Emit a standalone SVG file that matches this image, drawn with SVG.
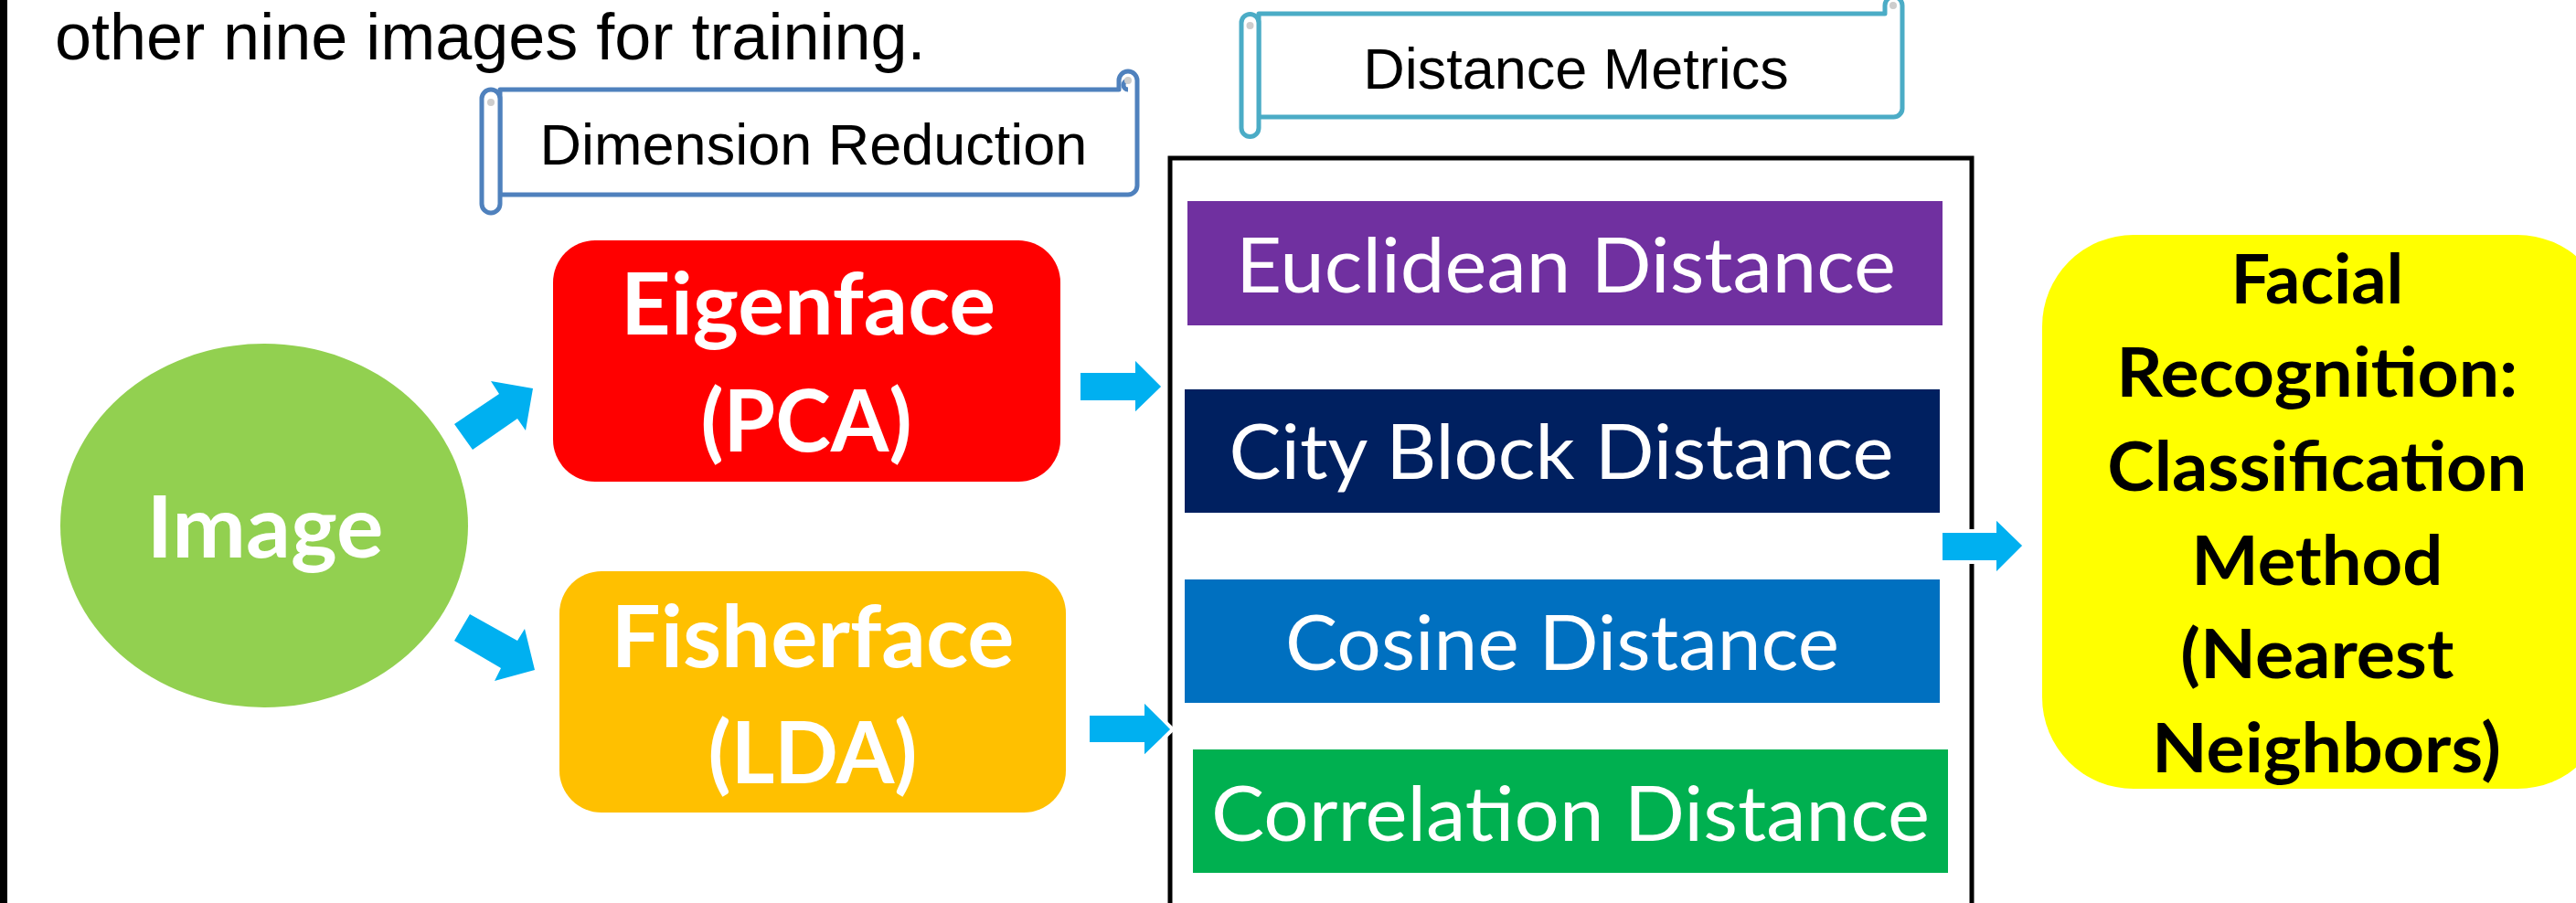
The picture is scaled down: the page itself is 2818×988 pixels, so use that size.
<svg xmlns="http://www.w3.org/2000/svg" width="2818" height="988" viewBox="0 0 2818 988">
<style>
.cal{font-family:Lato,"Open Sans","Liberation Sans",sans-serif}
.b{font-weight:bold}
.w{fill:#FFFFFF}
.k{fill:#000000}
.ar{font-family:"Liberation Sans",Arial,sans-serif;fill:#000000}
.arrow{fill:#00B0F0}
.arrowW{fill:#00B0F0;stroke:#FFFFFF;stroke-width:4}
.scrollA{fill:#FFFFFF;stroke:#4F81BD;stroke-width:5;stroke-linejoin:round}
.scrollB{fill:#FFFFFF;stroke:#4BACC6;stroke-width:5;stroke-linejoin:round}
.curl{fill:#CDCDCD}
</style>
<rect x="0" y="0" width="2818" height="988" fill="#FFFFFF"/>
<rect id="leftbar" x="0" y="0" width="8" height="988" fill="#000000"/>

<text id="caption" class="ar" x="60" y="65" font-size="72">other nine images for training.</text>

<g id="dimension-reduction">
  <path class="scrollA" d="M547,98 L1224,98 L1224,88 A10,10 0 0 1 1244,88 L1244,203 A10,10 0 0 1 1234,213 L547,213 Z"/>
  <path class="scrollA" d="M1234,98 A5,5 0 0 1 1234,88"/>
  <circle class="curl" cx="1234" cy="88" r="4"/>
  <path class="scrollA" d="M527,108 A10,10 0 0 1 547,108 L547,223 A10,10 0 0 1 527,223 Z"/>
  <circle class="curl" cx="537" cy="112" r="4"/>
  <text class="ar" x="890" y="180" font-size="63" text-anchor="middle">Dimension Reduction</text>
</g>

<g id="distance-metrics">
  <path class="scrollB" d="M1377,15 L2062,15 L2062,6 A9.5,9.5 0 0 1 2081,6 L2081,119 A9.5,9.5 0 0 1 2071.5,128 L1377,128 Z"/>
  <circle class="curl" cx="2071" cy="6" r="4"/>
  <path class="scrollB" d="M1358,25 A9.5,9.5 0 0 1 1377,25 L1377,140 A9.5,9.5 0 0 1 1358,140 Z"/>
  <circle class="curl" cx="1367.5" cy="28" r="4"/>
  <text class="ar" x="1724" y="97" font-size="63" text-anchor="middle">Distance Metrics</text>
</g>

<g id="image">
  <ellipse cx="289" cy="575" rx="223" ry="199" fill="#92D050"/>
  <text class="cal b w" x="290" y="610" font-size="93" text-anchor="middle" textLength="259" lengthAdjust="spacingAndGlyphs">Image</text>
</g>

<g id="eigenface">
  <rect x="605" y="263" width="555" height="264" rx="46" fill="#FF0000"/>
  <text class="cal b w" x="884" y="366" font-size="93" text-anchor="middle" textLength="410" lengthAdjust="spacingAndGlyphs">Eigenface</text>
  <text class="cal b w" x="882" y="494" font-size="93" text-anchor="middle" textLength="231" lengthAdjust="spacingAndGlyphs">(PCA)</text>
</g>

<g id="fisherface">
  <rect x="612" y="625" width="554" height="264" rx="46" fill="#FFC000"/>
  <text class="cal b w" x="889" y="730" font-size="93" text-anchor="middle" textLength="441" lengthAdjust="spacingAndGlyphs">Fisherface</text>
  <text class="cal b w" x="889" y="857" font-size="93" text-anchor="middle" textLength="229" lengthAdjust="spacingAndGlyphs">(LDA)</text>
</g>

<g id="distance-group">
  <rect x="1280" y="173" width="877" height="840" fill="none" stroke="#000000" stroke-width="5"/>
</g>

<g id="euclidean">
  <rect x="1299" y="220" width="826" height="136" fill="#7030A0"/>
  <text class="cal w" x="1713" y="320" font-size="83" text-anchor="middle" textLength="722" lengthAdjust="spacingAndGlyphs">Euclidean Distance</text>
</g>
<g id="cityblock">
  <rect x="1296" y="426" width="826" height="135" fill="#002060"/>
  <text class="cal w" x="1708" y="524" font-size="83" text-anchor="middle" textLength="727" lengthAdjust="spacingAndGlyphs">City Block Distance</text>
</g>
<g id="cosine">
  <rect x="1296" y="634" width="826" height="135" fill="#0070C0"/>
  <text class="cal w" x="1709" y="733" font-size="83" text-anchor="middle" textLength="606" lengthAdjust="spacingAndGlyphs">Cosine Distance</text>
</g>
<g id="correlation">
  <rect x="1305" y="820" width="826" height="135" fill="#00B050"/>
  <text class="cal w" x="1718" y="920" font-size="83" text-anchor="middle" textLength="786" lengthAdjust="spacingAndGlyphs">Correlation Distance</text>
</g>

<g id="classification">
  <rect x="2234" y="257" width="620" height="606" rx="100" fill="#FFFF00"/>
  <text class="cal b k" font-size="75" text-anchor="middle">
    <tspan x="2544" y="332" textLength="189" lengthAdjust="spacingAndGlyphs">Facial</tspan>
    <tspan x="2544" y="434" textLength="439" lengthAdjust="spacingAndGlyphs">Recognition:</tspan>
    <tspan x="2544" y="537" textLength="459" lengthAdjust="spacingAndGlyphs">Classification</tspan>
    <tspan x="2544" y="640" textLength="275" lengthAdjust="spacingAndGlyphs">Method</tspan>
    <tspan x="2544" y="742" textLength="299" lengthAdjust="spacingAndGlyphs">(Nearest</tspan>
    <tspan x="2545" y="845" textLength="382" lengthAdjust="spacingAndGlyphs">Neighbors)</tspan>
  </text>
</g>

<g id="connectors">
  <polygon class="arrow" points="497,464 546,431 537,417 583,425 575,471 566,458 517,492"/>
  <polygon class="arrow" points="514,672 566,701 574,688 585,733 541,745 548,731 497,701"/>
  <polygon class="arrowW" points="1180,406 1240,406 1240,390 1273,423 1240,455 1240,440 1180,440"/>
  <polygon class="arrowW" points="1190,781 1250,781 1250,765 1283,798 1250,830 1250,814 1190,814"/>
  <polygon class="arrowW" points="2123,581 2182,581 2182,565 2215,597 2182,630 2182,615 2123,615"/>
</g>
</svg>
